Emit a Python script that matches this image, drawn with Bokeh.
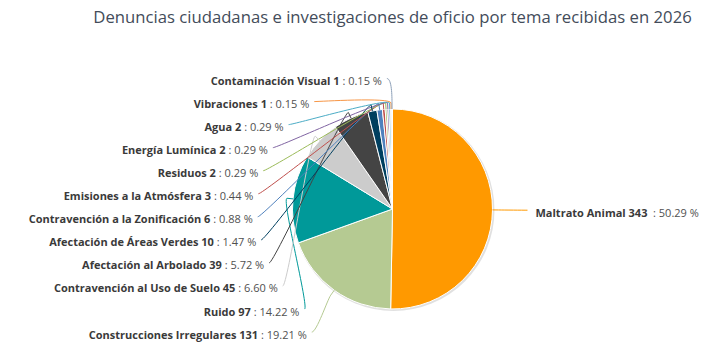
import math
from bokeh.plotting import figure
from bokeh.models import Range1d
from bokeh.core.properties import value
from bokeh.embed import file_html
from bokeh.resources import INLINE

# ---------------- data ----------------
TITLE = "Denuncias ciudadanas e investigaciones de oficio por tema recibidas en 2026"
categories = [
    "Maltrato Animal",
    "Construcciones Irregulares",
    "Ruido",
    "Contravención al Uso de Suelo",
    "Afectación al Arbolado",
    "Afectación de Áreas Verdes",
    "Contravención a la Zonificación",
    "Emisiones a la Atmósfera",
    "Residuos",
    "Energía Lumínica",
    "Agua",
    "Vibraciones",
    "Contaminación Visual",
]
counts = [343, 131, 97, 45, 39, 10, 6, 3, 2, 2, 2, 1, 1]
colors = [
    "#FF9900", "#B5CA92", "#009999", "#CCCCCC", "#444444", "#003F5F",
    "#4F81BD", "#C0504D", "#9BBB59", "#8064A2", "#4BACC6", "#F79646", "#8DA0B8",
]

# ---------------- layout (page pixels) ----------------
W, H = 723, 355
CX, CY, R = 392.0, 208.5, 100.0
LD, PAD, CONN_OFF = 30.0, 5.0, 6.0
BOX_H, TOP_B, BOT_B = 23.05, 66.5, 343.0
FS = 11  # label font px


def Y(py):
    return H - py


REG_W = {" ": 0.26, ":": 0.266, ".": 0.266, "%": 0.823}
BOLD_W = {"M": 0.95, "a": 0.62, "l": 0.31, "t": 0.43, "r": 0.46, "o": 0.64,
          "A": 0.76, "n": 0.66, "i": 0.31, "m": 0.99, " ": 0.26}


def reg_width(s):
    return sum(REG_W.get(c, 0.572) for c in s) * FS


def bold_width(s):
    return sum(BOLD_W.get(c, 0.62 if not c.isdigit() else 0.60) for c in s) * FS


total = sum(counts)
p = figure(width=715, height=347, x_range=Range1d(0, 715), y_range=Range1d(8, 355),
           output_backend="svg", toolbar_location=None, x_axis_type=None,
           y_axis_type=None, min_border=0)
p.outline_line_color = None
p.background_fill_color = "white"

# slices
starts, ends, mids = [], [], []
cum = 0
for c in counts:
    t0 = cum / total * 360.0
    cum += c
    t1 = cum / total * 360.0
    starts.append(math.radians(90 - t0))
    ends.append(math.radians(90 - t1))
    mids.append((t0 + t1) / 2)

# soft shadow
p.circle(x=[CX + 1], y=[Y(CY + 1)], radius=R + 1, fill_color="#000000",
         fill_alpha=0.12, line_color=None)
p.wedge(x=CX, y=Y(CY), radius=R, start_angle=starts, end_angle=ends,
        direction="clock", fill_color=colors, line_color="white", line_width=1)

# label geometry
pts = []
for i, m in enumerate(mids):
    a = math.radians(m)
    dx, dy = math.sin(a), -math.cos(a)
    pts.append(dict(i=i, left=m > 180, nat=(CX + (R + LD) * dx, CY + (R + LD) * dy),
                    brk=(CX + (R + CONN_OFF) * dx, CY + (R + CONN_OFF) * dy),
                    tch=(CX + R * dx, CY + R * dy)))


def get_x(y, left):
    ang = math.asin(max(-1.0, min(1.0, (y - CY) / (R + LD))))
    return CX + (-1 if left else 1) * (math.cos(ang) * (R + LD) + PAD)


def distribute(ys):
    n = len(ys)
    pos = list(ys)
    for k in range(n):
        lo = TOP_B + BOX_H / 2 if k == 0 else pos[k - 1] + BOX_H
        pos[k] = max(pos[k], lo)
    for k in reversed(range(n)):
        hi = BOT_B - BOX_H / 2 if k == n - 1 else pos[k + 1] - BOX_H
        pos[k] = min(pos[k], hi)
    for k in range(n):
        lo = TOP_B + BOX_H / 2 if k == 0 else pos[k - 1] + BOX_H
        pos[k] = max(pos[k], lo)
    return pos


for side in (True, False):
    group = sorted([q for q in pts if q["left"] == side], key=lambda q: q["nat"][1])
    ys = distribute([q["nat"][1] for q in group])
    for q, y in zip(group, ys):
        pinned = y <= TOP_B + BOX_H / 2 + 2 or y >= BOT_B - BOX_H / 2 - 2
        x = get_x(q["nat"][1] if pinned else y, side)
        q["lab"] = (x, y)

bz = dict(x0=[], y0=[], x1=[], y1=[], cx0=[], cy0=[], cx1=[], cy1=[], c=[])
sg = dict(x0=[], y0=[], x1=[], y1=[], c=[])
bt = dict(x=[], y=[], t=[], a=[])
vt = dict(x=[], y=[], t=[], a=[])
for q in pts:
    i = q["i"]
    lx, ly = q["lab"]
    bx, by = q["brk"]
    tx, ty = q["tch"]
    sgn = 1 if q["left"] else -1
    bz["x0"].append(lx); bz["y0"].append(Y(ly))
    bz["cx0"].append(lx + 5 * sgn); bz["cy0"].append(Y(ly))
    bz["cx1"].append(2 * bx - tx); bz["cy1"].append(Y(2 * by - ty))
    bz["x1"].append(bx); bz["y1"].append(Y(by)); bz["c"].append(colors[i])
    sg["x0"].append(bx); sg["y0"].append(Y(by)); sg["x1"].append(tx); sg["y1"].append(Y(ty))
    sg["c"].append(colors[i])

    name = f"{categories[i]} {counts[i]}"
    val = f": {counts[i] / total * 100:.2f} %"
    ty_text = Y(ly + 2)
    if q["left"]:
        end = lx - 5
        vt["x"].append(end); vt["y"].append(ty_text); vt["t"].append(val); vt["a"].append("right")
        bt["x"].append(end - reg_width(" " + val)); bt["y"].append(ty_text)
        bt["t"].append(name); bt["a"].append("right")
    else:
        start = lx + 8
        bt["x"].append(start); bt["y"].append(ty_text); bt["t"].append(name); bt["a"].append("left")
        vt["x"].append(start + bold_width(name) + reg_width(" ")); vt["y"].append(ty_text)
        vt["t"].append(val); vt["a"].append("left")

p.bezier(x0=bz["x0"], y0=bz["y0"], x1=bz["x1"], y1=bz["y1"], cx0=bz["cx0"], cy0=bz["cy0"],
         cx1=bz["cx1"], cy1=bz["cy1"], line_color=bz["c"], line_width=1)
p.segment(x0=sg["x0"], y0=sg["y0"], x1=sg["x1"], y1=sg["y1"], line_color=sg["c"], line_width=1)

p.text(x=bt["x"], y=bt["y"], text=bt["t"], text_align=bt["a"], text_baseline="middle",
       text_font=value("Open Sans"), text_font_size=f"{FS}px", text_font_style="bold",
       text_color="#3a3a3a")
p.text(x=vt["x"], y=vt["y"], text=vt["t"], text_align=vt["a"], text_baseline="middle",
       text_font=value("Open Sans"), text_font_size=f"{FS}px", text_color="#505050")

p.text(x=[392], y=[Y(16)], text=[TITLE], text_align="center", text_baseline="middle",
       text_font=value("Open Sans"), text_font_size="16.7px", text_color="#434c5a")

open("out.html", "w").write(file_html(p, INLINE))
